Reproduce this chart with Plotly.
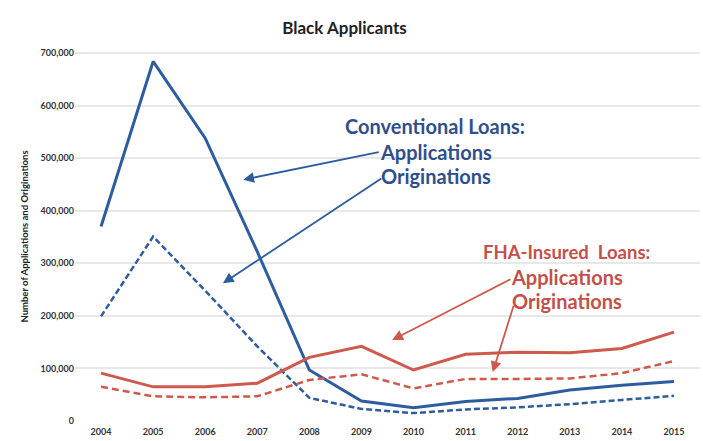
import plotly.graph_objects as go

years = [2004, 2005, 2006, 2007, 2008, 2009, 2010, 2011, 2012, 2013, 2014, 2015]

conv_applications = [370000, 684000, 538000, 322000, 97000, 38000, 25000, 37000, 43000, 59000, 68000, 75000]
conv_originations = [199000, 351000, 248000, 142000, 44000, 23000, 15000, 22000, 26000, 32000, 40000, 48000]
fha_applications = [91000, 65000, 65000, 72000, 121000, 142000, 97000, 127000, 131000, 130000, 138000, 169000]
fha_originations = [65000, 47000, 45000, 47000, 78000, 89000, 62000, 80000, 80000, 81000, 91000, 114000]

y_ticks = [0, 100000, 200000, 300000, 400000, 500000, 600000, 700000]
y_tick_text = ["0", "100,000", "200,000", "300,000", "400,000", "500,000", "600,000", "700,000"]

BLUE = "#2d5d9f"
BLUE_TEXT = "#2f4f8c"
RED = "#cd5a4c"
RED_TEXT = "#c4504a"
FONT = "Lato"

fig = go.Figure()
fig.add_trace(go.Scatter(x=years, y=conv_applications, mode="lines",
                         line=dict(color=BLUE, width=3), name="Conventional Applications"))
fig.add_trace(go.Scatter(x=years, y=conv_originations, mode="lines",
                         line=dict(color=BLUE, width=2.5, dash="6px,3px"), name="Conventional Originations"))
fig.add_trace(go.Scatter(x=years, y=fha_applications, mode="lines",
                         line=dict(color=RED, width=3), name="FHA Applications"))
fig.add_trace(go.Scatter(x=years, y=fha_originations, mode="lines",
                         line=dict(color=RED, width=2.5, dash="7px,4px"), name="FHA Originations"))

annotations = []

def label(text, x, y, color, size=20):
    annotations.append(dict(text=text, x=x, y=y, xref="x", yref="y", showarrow=False,
                            font=dict(family=FONT, size=size, color=color), xanchor="center", yanchor="middle"))

def arrow(x_tail, y_tail, x_head, y_head, color):
    annotations.append(dict(text="", x=x_head, y=y_head, ax=x_tail, ay=y_tail,
                            xref="x", yref="y", axref="x", ayref="y", showarrow=True,
                            arrowhead=2, arrowsize=1.2, arrowwidth=1.8, arrowcolor=color))

label("<b>Conventional Loans:</b>", 2010.41, 562000, BLUE_TEXT)
label("<b>Applications</b>", 2010.43, 512000, BLUE_TEXT)
label("<b>Originations</b>", 2010.43, 466000, BLUE_TEXT)
arrow(2009.36, 512000, 2006.73, 459000, BLUE)
arrow(2009.41, 463000, 2006.34, 262000, BLUE)

label("<b>FHA-Insured  Loans:</b>", 2012.94, 321000, RED_TEXT, size=18.5)
label("<b>Applications</b>", 2012.94, 274000, RED_TEXT)
label("<b>Originations</b>", 2012.94, 228000, RED_TEXT)
arrow(2011.89, 271000, 2009.59, 154000, RED)
arrow(2011.93, 222000, 2011.52, 93000, RED)

fig.update_layout(
    width=703, height=441,
    margin=dict(l=75, r=3, t=52, b=20),
    paper_bgcolor="white", plot_bgcolor="white",
    showlegend=False,
    title=dict(text="<b>Black Applicants</b>", x=0.49, xanchor="center", y=0.937, yanchor="middle",
               font=dict(family=FONT, size=17, color="#222222")),
    annotations=annotations,
    xaxis=dict(range=[2003.5, 2015.5], tickvals=years, ticktext=[f"<b>{y}</b>" for y in years],
               showgrid=False, zeroline=False, showline=False, ticks="", ticklabelstandoff=4,
               tickfont=dict(family=FONT, size=9, color="#333333")),
    yaxis=dict(range=[0, 702000], tickvals=y_ticks, ticktext=[f"<b>{t}</b>" for t in y_tick_text],
               showgrid=True, gridcolor="#e8e8e8", gridwidth=2, zeroline=False, showline=False,
               tickfont=dict(family=FONT, size=9, color="#333333"), ticks="",
               title=dict(text="<b>Number of Applications and Originations</b>", standoff=10,
                          font=dict(family=FONT, size=9.5, color="#222222"))),
)

fig.write_html("out.html")
